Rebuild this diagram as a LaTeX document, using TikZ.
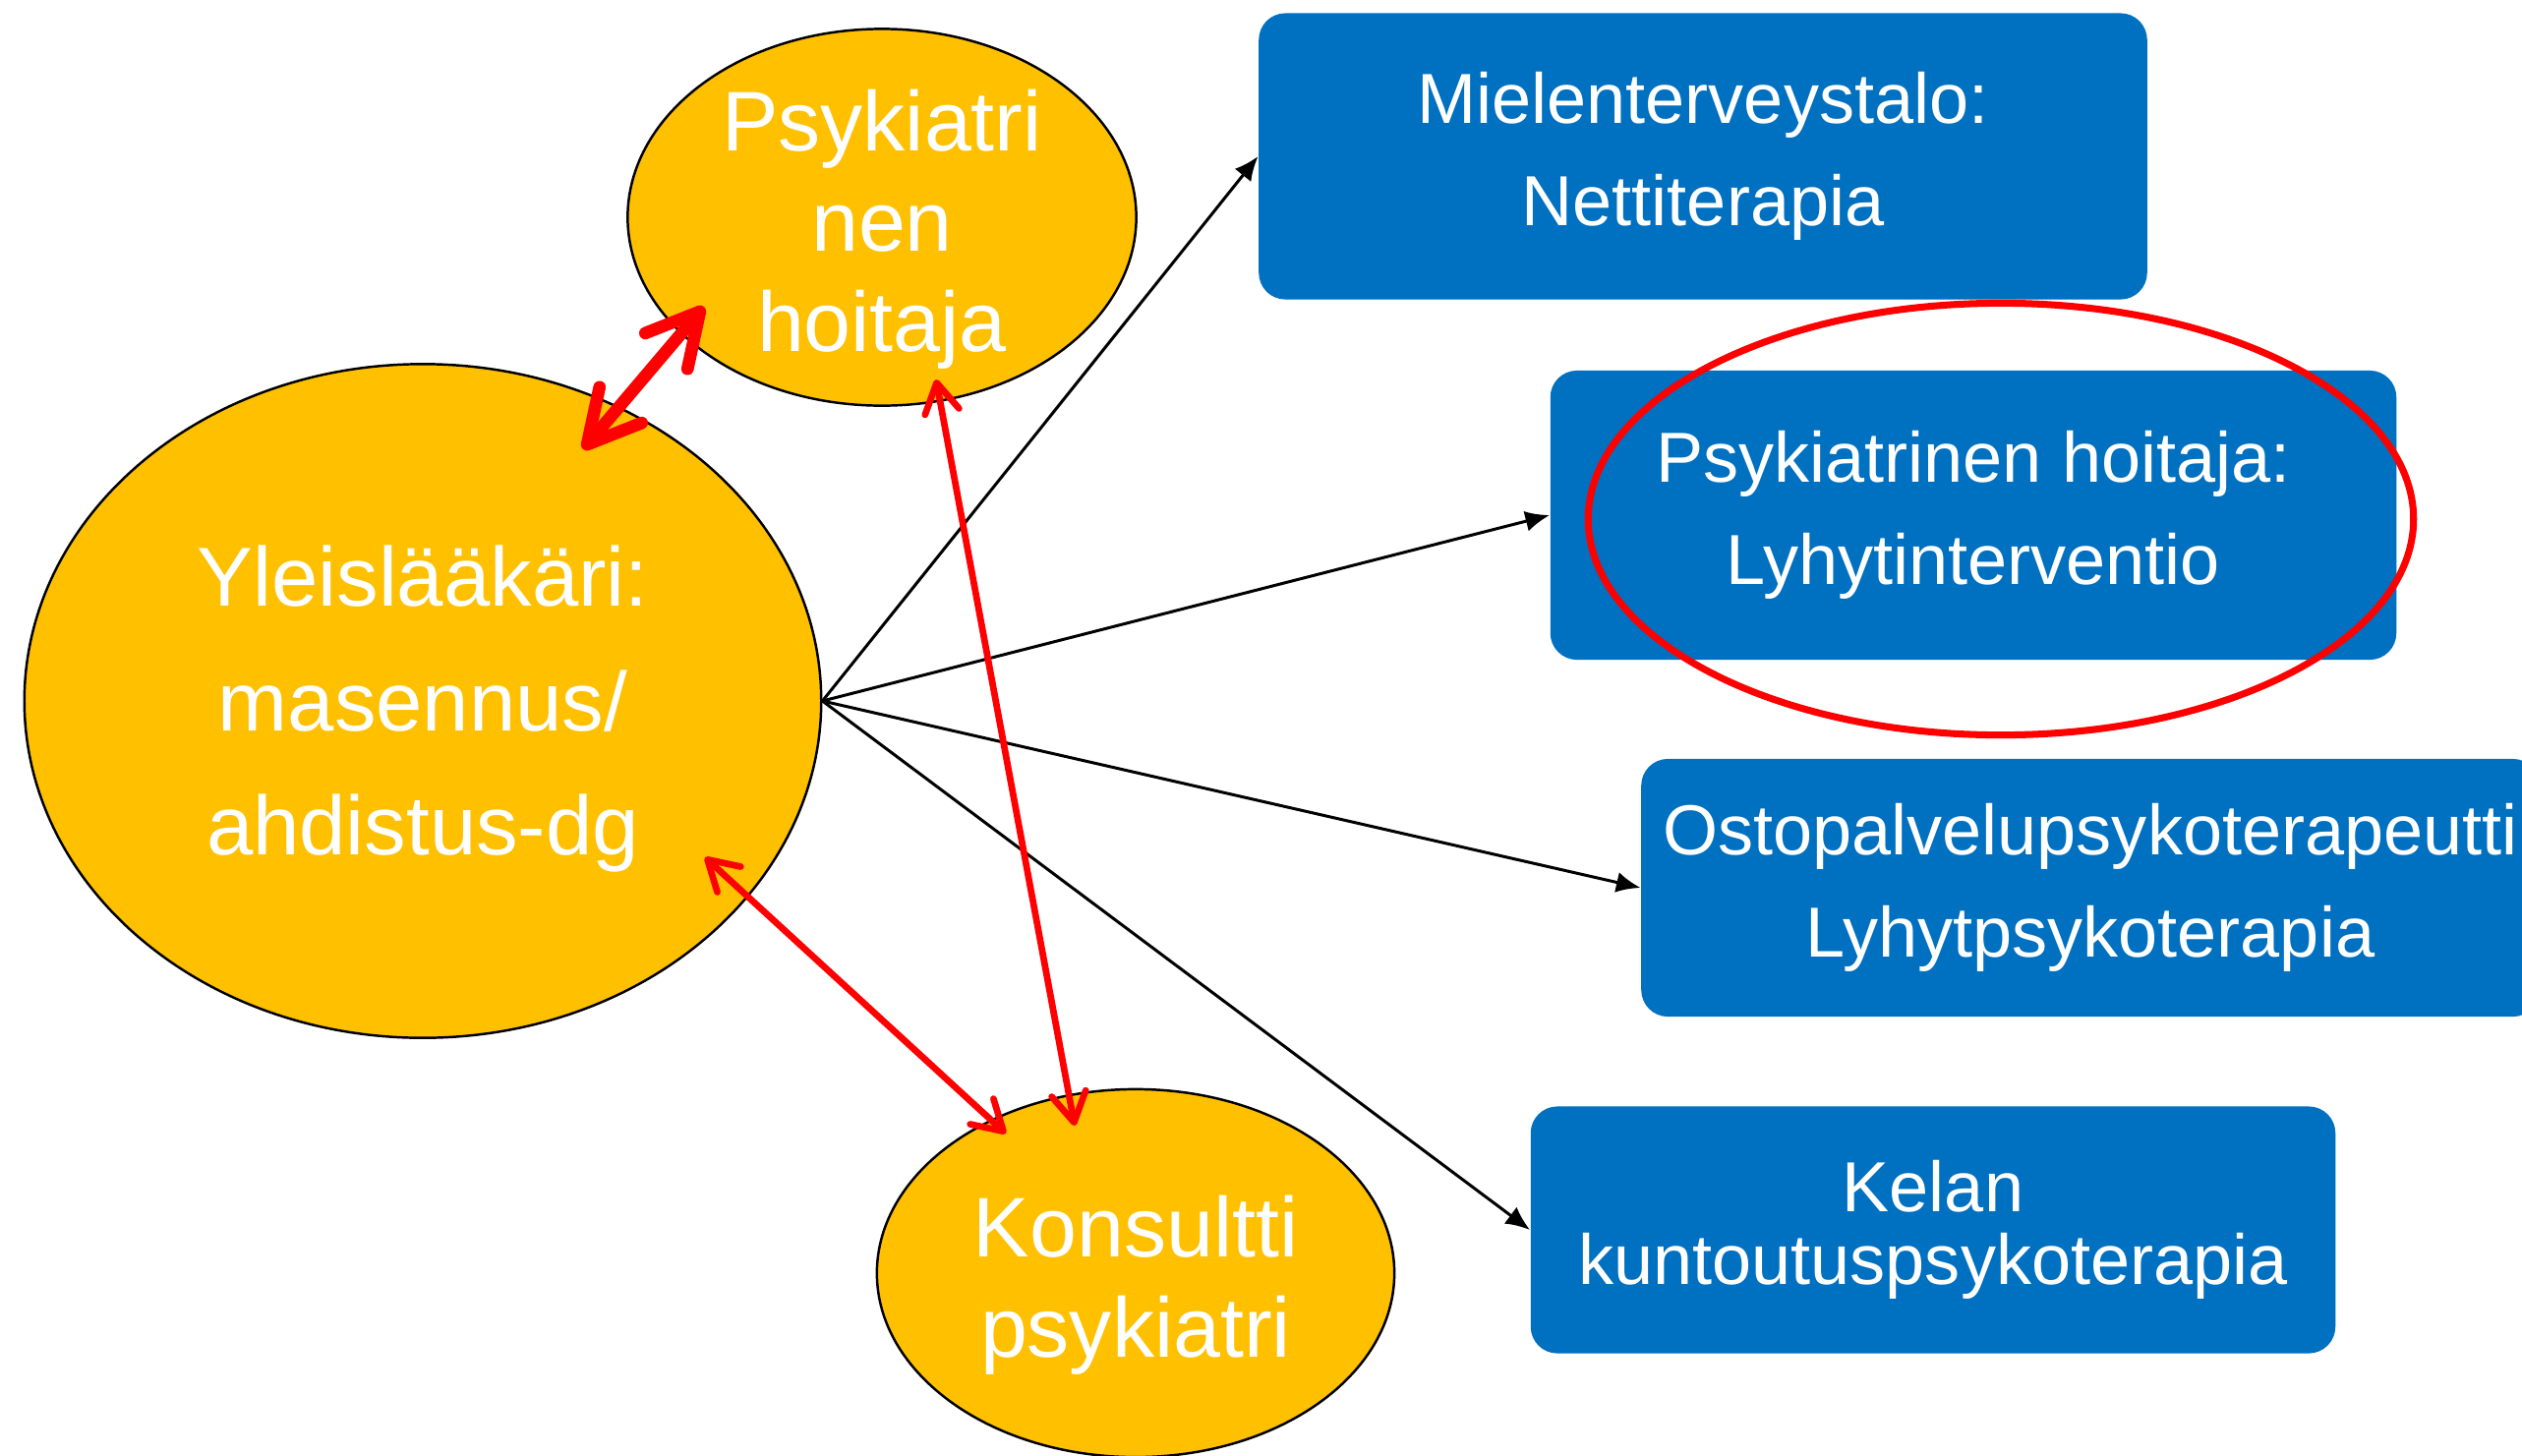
\documentclass[tikz,border=0pt]{standalone}
\usepackage{fontspec}
\setmainfont{Liberation Sans}
\usetikzlibrary{shapes.geometric, arrows.meta}
\definecolor{keltainen}{HTML}{FFC000}
\definecolor{sininen}{HTML}{0070C0}
\tikzstyle{ovaali} = [ellipse, draw=black, line width=0.7pt, fill=keltainen, inner sep=0pt]
\tikzstyle{ovaaliteksti} = [text=white, align=center, inner sep=0pt]
\tikzstyle{laatikko} = [rectangle, rounded corners=7.7pt, fill=sininen, text=white, align=center, inner sep=0pt, font=\fontsize{20.5}{29.5}\selectfont]
\tikzstyle{nuoli} = [line width=0.85pt, -{Latex[length=7pt,width=6pt]}]
\tikzstyle{punanuoli} = [red, line width=1.9pt, {Straight Barb[round,length=8.5pt,width=10pt]}-{Straight Barb[round,length=8.5pt,width=10pt]}]

\begin{document}
\begin{tikzpicture}[x=0.01cm, y=-0.01cm]
        \clip (0,0) rectangle (2565,1481);
        % ellipses
        \node[ovaali, minimum width=8.10cm, minimum height=6.85cm,
              label={[ovaaliteksti, yshift=-0.08cm, font=\fontsize{24.2}{36}\selectfont]center:Yleislääkäri:\\masennus/\\ahdistus-dg}] (yl) at (430,713) {};
        \node[ovaali, minimum width=5.17cm, minimum height=3.83cm,
              label={[ovaaliteksti, yshift=-0.12cm, font=\fontsize{24.5}{29}\selectfont]center:Psykiatri\\nen\\hoitaja}] (ps) at (897,221) {};
        \node[ovaali, minimum width=5.26cm, minimum height=3.74cm,
              label={[ovaaliteksti, yshift=-0.12cm, font=\fontsize{24.5}{29}\selectfont]center:Konsultti\\psykiatri}] (ko) at (1155,1295) {};
        % boxes
        \node[laatikko, minimum width=9.03cm, minimum height=2.91cm] (b1) at (1732,159) {Mielenterveystalo:\\Nettiterapia};
        \node[laatikko, minimum width=8.60cm, minimum height=2.94cm] (b2) at (2007,524) {Psykiatrinen hoitaja:\\Lyhytinterventio};
        \node[laatikko, minimum width=9.13cm, minimum height=2.62cm] (b3) at (2126,903) {Ostopalvelupsykoterapeutti\\Lyhytpsykoterapia};
        \node[laatikko, minimum width=8.18cm, minimum height=2.51cm, font=\fontsize{20.5}{21}\selectfont] (b4) at (1966,1251) {Kelan\\kuntoutuspsykoterapia};
        \node[ellipse, draw=red, line width=2pt, minimum width=8.39cm, minimum height=4.39cm] (rengas) at (2035,528) {};
        % black arrows
        \draw[nuoli] (yl.east) -- (b1.west);
        \draw[nuoli] (yl.east) -- (b2.west);
        \draw[nuoli] (yl.east) -- (b3.west);
        \draw[nuoli] (yl.east) -- (b4.west);
        % red arrows
        \draw[punanuoli, line width=3.6pt, {Straight Barb[round,length=15pt,width=16pt]}-{Straight Barb[round,length=15pt,width=16pt]}] ([shift={(163,-256)}]yl.center) -- ([shift={(-181,91)}]ps.center);
        \draw[punanuoli] ([shift={(55,165)}]ps.center) -- ([shift={(-62,-150)}]ko.center);
        \draw[punanuoli] ([shift={(287,159)}]yl.center) -- ([shift={(-132,-142)}]ko.center);
\end{tikzpicture}
\end{document}
